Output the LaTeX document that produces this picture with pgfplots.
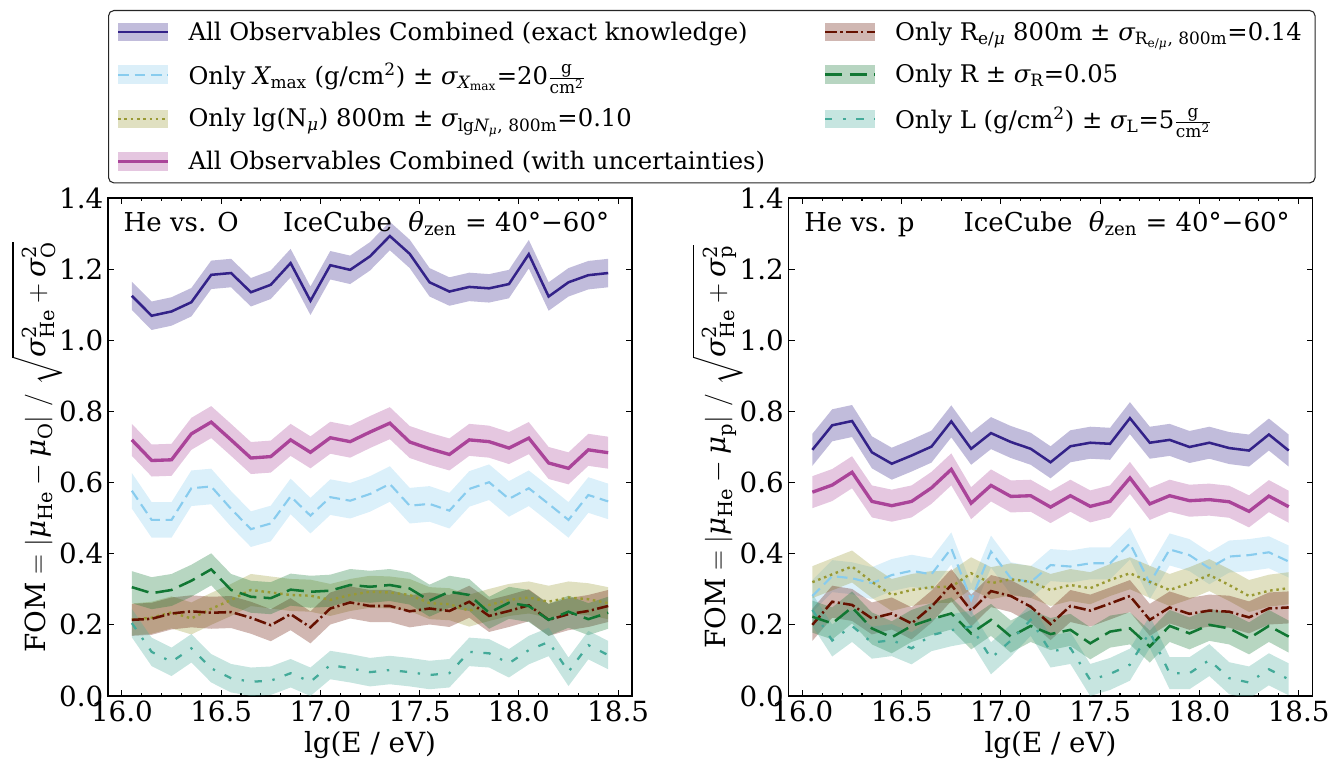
\RequirePackage{fix-cm}
\documentclass[border=0pt]{standalone}
\usepackage{amsmath}
\usepackage{fontspec}
\setmainfont{DejaVu Serif}
\usepackage{pgfplots}
\pgfplotsset{compat=1.18}
\usepackage{pgfplotstable}
\usepgfplotslibrary{fillbetween}

\definecolor{c1}{HTML}{332288}
\definecolor{c2}{HTML}{88CCEE}
\definecolor{c3}{HTML}{999933}
\definecolor{c4}{HTML}{AA4499}
\definecolor{c5}{HTML}{661100}
\definecolor{c6}{HTML}{117733}
\definecolor{c7}{HTML}{44AA99}

\newcommand{\gi}[1]{\text{\itshape #1}}
\newcommand{\tr}[1]{\text{#1}}

\tikzset{
 sex/.style={c1, line width=1.9pt},
 sxm/.style={c2, line width=1.6pt, dash pattern=on 8pt off 4.3pt},
 sln/.style={c3, line width=1.8pt, dash pattern=on 1.9pt off 2.8pt},
 scu/.style={c4, line width=2.5pt},
 sre/.style={c5, line width=1.9pt, dash pattern=on 9pt off 2.5pt on 1.6pt off 2.5pt},
 sr/.style={c6, line width=1.9pt, dash pattern=on 13pt off 5.5pt},
 sl/.style={c7, line width=1.7pt, dash pattern=on 5.5pt off 8pt on 1.8pt off 8pt},
}

\pgfplotsset{
 bandleg/.style={legend image code/.code={%
   \fill[#1, fill opacity=0.3, sharp corners, draw=none] (0pt,-6.9pt) rectangle (37.5pt,6.9pt);
   \draw[##1, sharp corners] (0pt,0pt) -- (37.5pt,0pt);}},
 myax/.style={
  scale only axis, width=393pt, height=373.5pt,
  xmin=15.93, xmax=18.57, ymin=0, ymax=1.4,
  xtick={16,16.5,17,17.5,18,18.5},
  ytick={0,0.2,0.4,0.6,0.8,1.0,1.2,1.4},
  minor x tick num=4,
  tick align=inside,
  major tick length=4.5pt, minor tick length=2.5pt,
  axis line style={line width=0.9pt},
  every tick/.style={black, line width=0.8pt},
  tick label style={font=\fontsize{20.8pt}{24pt}\selectfont},
  /pgf/number format/assume math mode=true,
  xticklabel style={/pgf/number format/.cd, fixed, fixed zerofill, precision=1},
  yticklabel style={/pgf/number format/.cd, fixed, fixed zerofill, precision=1},
  label style={font=\fontsize{20.8pt}{24pt}\selectfont},
  xlabel={lg(E / eV)},
  xlabel style={at={(0.5,-0.098)}, anchor=center},
  ylabel style={at={(-0.136,0.5)}, anchor=center, rotate=0, inner sep=0pt},
 },
}

\newcommand{\band}[6]{%
 \addplot[name path=#6u, draw=none, forget plot] table[x=x, y expr=\thisrow{#2}+#4]{#1};
 \addplot[name path=#6d, draw=none, forget plot] table[x=x, y expr=\thisrow{#2}-#4]{#1};
 \addplot[fill=#3, fill opacity=0.3, draw=none, forget plot] fill between[of=#6u and #6d];
 \addplot[#5, forget plot] table[x=x, y=#2]{#1};
}

% He vs. O
\pgfplotstableread{
x ex xm ln cu re r l
16.05 1.125 0.577 0.215 0.720 0.214 0.306 0.205
16.15 1.069 0.495 0.220 0.662 0.217 0.289 0.124
16.25 1.081 0.495 0.235 0.664 0.232 0.298 0.096
16.35 1.107 0.584 0.218 0.737 0.238 0.324 0.134
16.45 1.184 0.589 0.245 0.770 0.234 0.356 0.078
16.55 1.189 0.526 0.270 0.720 0.236 0.298 0.050
16.65 1.135 0.469 0.298 0.669 0.220 0.279 0.040
16.75 1.156 0.485 0.291 0.673 0.199 0.275 0.043
16.85 1.217 0.561 0.284 0.720 0.230 0.299 0.064
16.95 1.111 0.507 0.282 0.685 0.193 0.293 0.040
17.05 1.211 0.559 0.270 0.726 0.246 0.296 0.087
17.15 1.198 0.549 0.284 0.715 0.263 0.312 0.078
17.25 1.236 0.568 0.293 0.742 0.253 0.307 0.067
17.35 1.293 0.596 0.291 0.767 0.253 0.312 0.073
17.45 1.243 0.535 0.284 0.714 0.238 0.302 0.067
17.55 1.163 0.540 0.261 0.695 0.246 0.268 0.059
17.65 1.137 0.521 0.258 0.679 0.239 0.293 0.064
17.75 1.150 0.582 0.240 0.720 0.265 0.284 0.124
17.85 1.146 0.601 0.256 0.715 0.225 0.234 0.120
17.95 1.158 0.554 0.270 0.697 0.239 0.262 0.092
18.05 1.242 0.584 0.277 0.725 0.255 0.253 0.129
18.15 1.123 0.540 0.265 0.655 0.214 0.214 0.152
18.25 1.163 0.495 0.277 0.640 0.230 0.237 0.068
18.35 1.183 0.565 0.272 0.692 0.239 0.216 0.143
18.45 1.189 0.547 0.261 0.684 0.253 0.234 0.115
}\tabO

% He vs. p
\pgfplotstableread{
x ex xm ln cu re r l
16.05 0.692 0.281 0.320 0.573 0.200 0.223 0.242
16.15 0.761 0.337 0.342 0.593 0.265 0.204 0.156
16.25 0.773 0.331 0.364 0.629 0.256 0.249 0.197
16.35 0.685 0.317 0.321 0.547 0.218 0.190 0.150
16.45 0.653 0.340 0.284 0.535 0.232 0.165 0.157
16.55 0.676 0.352 0.298 0.547 0.204 0.197 0.134
16.65 0.701 0.342 0.306 0.585 0.251 0.216 0.171
16.75 0.772 0.415 0.307 0.637 0.312 0.232 0.185
16.85 0.695 0.270 0.345 0.542 0.240 0.176 0.195
16.95 0.739 0.406 0.317 0.592 0.295 0.214 0.106
17.05 0.714 0.331 0.328 0.561 0.281 0.167 0.156
17.15 0.695 0.320 0.321 0.563 0.251 0.197 0.214
17.25 0.657 0.368 0.298 0.531 0.202 0.174 0.125
17.35 0.702 0.364 0.312 0.563 0.253 0.186 0.135
17.45 0.712 0.373 0.303 0.533 0.240 0.148 0.045
17.55 0.709 0.373 0.326 0.547 0.260 0.181 0.062
17.65 0.781 0.429 0.345 0.613 0.281 0.190 0.088
17.75 0.712 0.317 0.321 0.540 0.214 0.139 0.180
17.85 0.720 0.412 0.298 0.563 0.249 0.197 0.064
17.95 0.700 0.396 0.317 0.549 0.231 0.176 0.064
18.05 0.712 0.359 0.340 0.552 0.240 0.200 0.101
18.15 0.697 0.392 0.312 0.546 0.237 0.190 0.050
18.25 0.690 0.396 0.281 0.519 0.221 0.162 0.038
18.35 0.735 0.404 0.296 0.562 0.246 0.197 0.075
18.45 0.690 0.378 0.303 0.532 0.249 0.167 0.047
}\tabP

\newcommand{\annfont}{\fontsize{19.5pt}{23pt}\selectfont}

\begin{document}
\begin{tikzpicture}
\path (0,0) rectangle (1007.25pt,570pt);

\begin{axis}[myax, at={(81pt,48pt)}, anchor=south west,
  ylabel={$\tr{FOM} = |\gi{μ}_{\tr{He}} - \gi{μ}_{\tr{O}}|\ /\ \sqrt{\gi{σ}^{\tr{2}}_{\tr{He}} + \gi{σ}^{\tr{2}}_{\tr{O}}}$},
  legend columns=2,
  legend cell align=left,
  legend style={at={(0,1.3775)}, anchor=north west, draw=black!85, line width=0.8pt,
    rounded corners=4pt, fill=white, inner xsep=6pt, inner ysep=6.5pt,
    font=\fontsize{18.2pt}{21pt}\selectfont,
    nodes={inner xsep=0pt, inner ysep=2pt},
    row sep=11.5pt,
    /tikz/every odd column/.append style={column sep=14pt},
    /tikz/every even column/.append style={column sep=26.5pt}},
]
\band{\tabO}{ex}{c1}{0.040}{sex}{a}
\band{\tabO}{xm}{c2}{0.050}{sxm}{b}
\band{\tabO}{ln}{c3}{0.045}{sln}{c}
\band{\tabO}{cu}{c4}{0.045}{scu}{d}
\band{\tabO}{re}{c5}{0.045}{sre}{e}
\band{\tabO}{r}{c6}{0.045}{sr}{f}
\band{\tabO}{l}{c7}{0.040}{sl}{g}

\addlegendimage{sex, bandleg=c1}
\addlegendentry{\makebox[450pt][l]{All Observables Combined (exact knowledge)}}
\addlegendimage{sre, bandleg=c5}
\addlegendentry{\makebox[309pt][l]{Only R$_{\tr{e/}\gi{μ}}$ 800m ± $\gi{σ}_{\tr{R}_{\tr{e/}\gi{μ}}\tr{, 800m}}$=0.14}}
\addlegendimage{sxm, bandleg=c2}
\addlegendentry{\makebox[450pt][l]{Only $\gi{X}_{\tr{max}}$ (g/cm$^{\tr{2}}$) ± $\gi{σ}_{\gi{X}_{\tr{max}}}$=20$\frac{\tr{g}}{\tr{cm}^{\tr{2}}}$}}
\addlegendimage{sr, bandleg=c6}
\addlegendentry{\makebox[309pt][l]{Only R ± $\gi{σ}_{\tr{R}}$=0.05}}
\addlegendimage{sln, bandleg=c3}
\addlegendentry{\makebox[450pt][l]{Only lg(N$_{\gi{μ}}$) 800m ± $\gi{σ}_{\tr{lg}\gi{N}_{\gi{μ}}\tr{, 800m}}$=0.10}}
\addlegendimage{sl, bandleg=c7}
\addlegendentry{\makebox[309pt][l]{Only L (g/cm$^{\tr{2}}$) ± $\gi{σ}_{\tr{L}}$=5$\frac{\tr{g}}{\tr{cm}^{\tr{2}}}$}}
\addlegendimage{scu, bandleg=c4}
\addlegendentry{\makebox[450pt][l]{All Observables Combined (with uncertainties)}}

\node[anchor=base west, font=\annfont] at (rel axis cs:0.021,0.932) {He vs. O};
\node[anchor=base west, font=\annfont] at (rel axis cs:0.325,0.932) {IceCube\ \ \textit{θ}\textsubscript{zen} = 40°−60°};
\end{axis}

\begin{axis}[myax, at={(591.4pt,48pt)}, anchor=south west,
  ylabel={$\tr{FOM} = |\gi{μ}_{\tr{He}} - \gi{μ}_{\tr{p}}|\ /\ \sqrt{\gi{σ}^{\tr{2}}_{\tr{He}} + \gi{σ}^{\tr{2}}_{\tr{p}}}$},
]
\band{\tabP}{ex}{c1}{0.045}{sex}{a}
\band{\tabP}{xm}{c2}{0.045}{sxm}{b}
\band{\tabP}{ln}{c3}{0.045}{sln}{c}
\band{\tabP}{cu}{c4}{0.045}{scu}{d}
\band{\tabP}{re}{c5}{0.045}{sre}{e}
\band{\tabP}{r}{c6}{0.045}{sr}{f}
\band{\tabP}{l}{c7}{0.045}{sl}{g}

\node[anchor=base west, font=\annfont] at (rel axis cs:0.021,0.932) {He vs. p};
\node[anchor=base west, font=\annfont] at (rel axis cs:0.325,0.932) {IceCube\ \ \textit{θ}\textsubscript{zen} = 40°−60°};
\end{axis}
\end{tikzpicture}
\end{document}
